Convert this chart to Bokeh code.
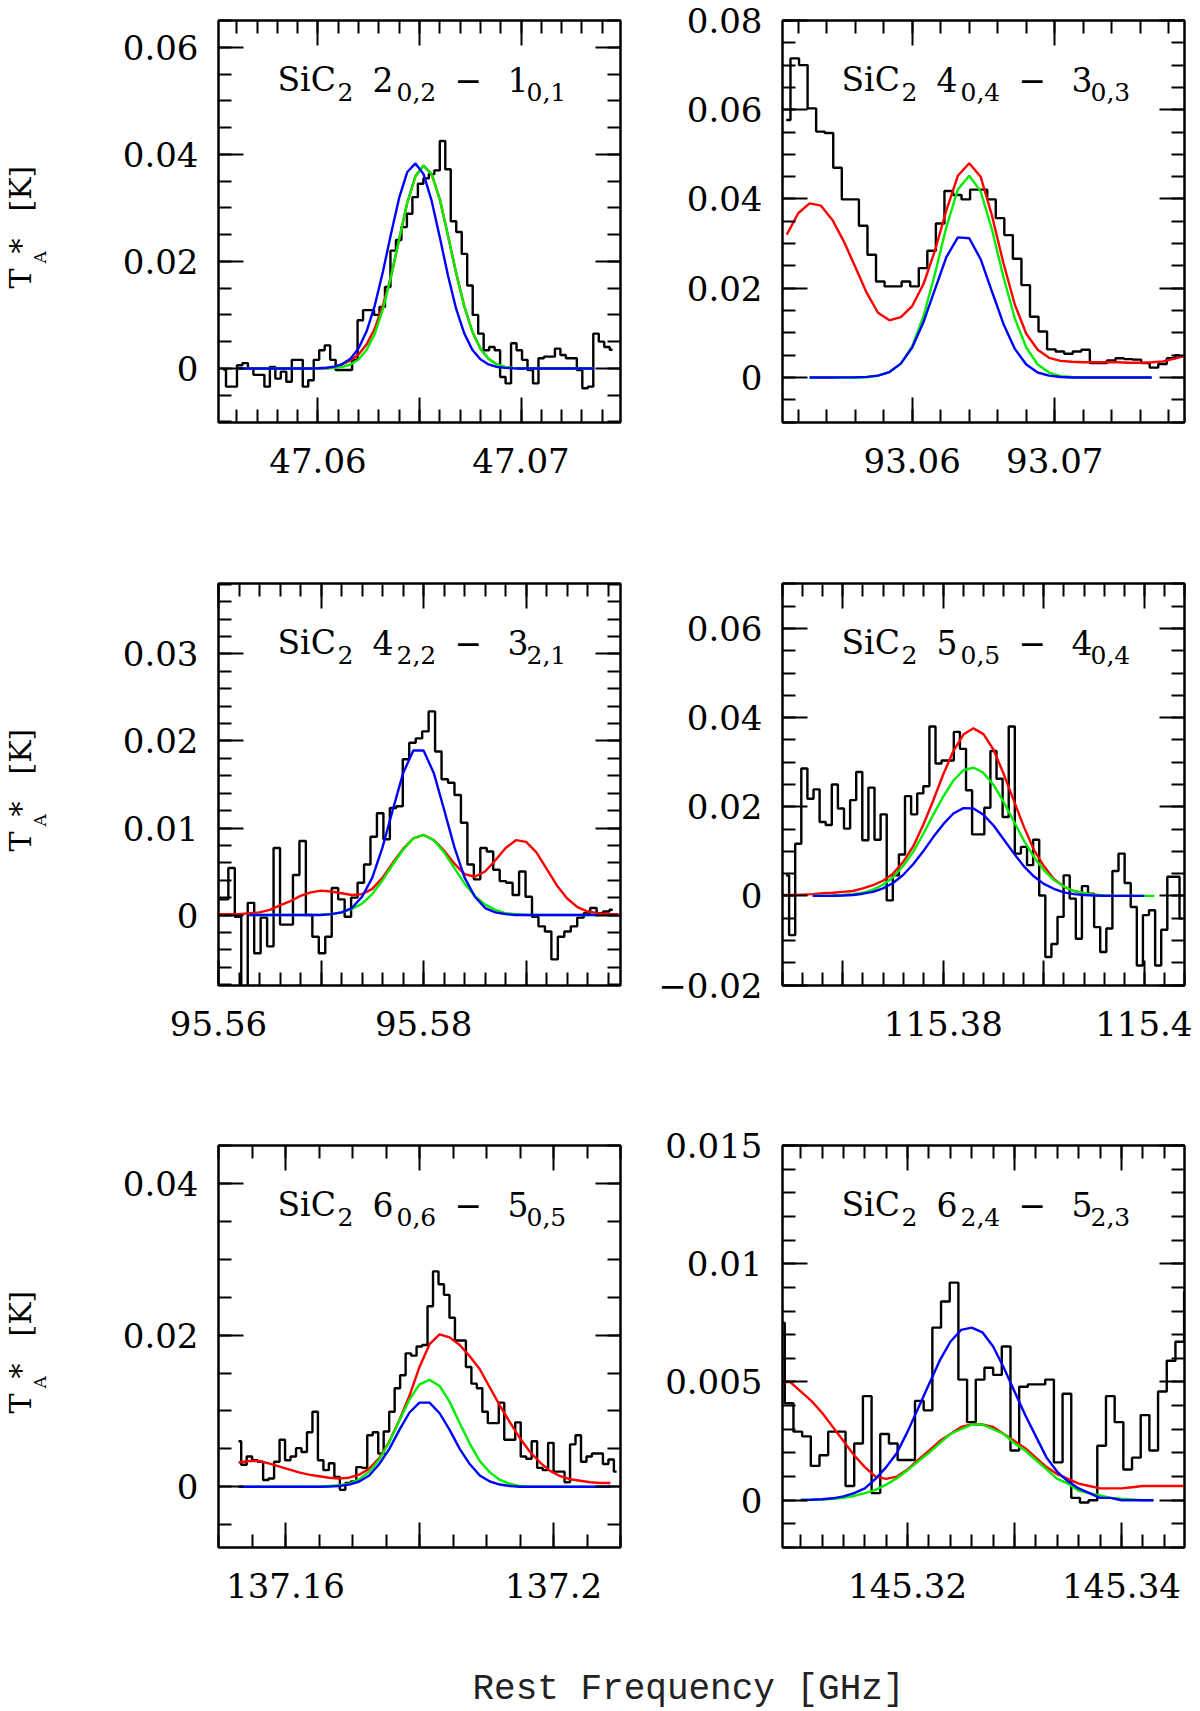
import numpy as np
from bokeh.embed import file_html
from bokeh.resources import INLINE
from bokeh.plotting import figure
from bokeh.layouts import row, column
from bokeh.models import Range1d, LinearAxis, FixedTicker, CustomJSTickFormatter, Label

nan = float("nan")

# ---------------- data (GHz, K) ----------------
# panel 1: SiC2 2(0,2)-1(0,1)
p1_chan0, p1_dchan = 47.0552, 0.00027
p1_spec = [-0.0002, -0.0034, -0.0034, 0.0006, 0.0010, 0.0000, -0.0012, -0.0012, -0.0034, 0.0003,
           -0.0019, -0.0006, -0.0025, 0.0016, 0.0016, -0.0034, -0.0022, 0.0016, 0.0034, 0.0043,
           0.0016, -0.0003, -0.0003, -0.0003, 0.0016, 0.0090, 0.0109, 0.0109, 0.0100, 0.0115,
           0.0152, 0.0220, 0.0240, 0.0264, 0.0289, 0.0320, 0.0345, 0.0355, 0.0363, 0.0370,
           0.0425, 0.0372, 0.0275, 0.0255, 0.0214, 0.0155, 0.0100, 0.0065, 0.0034, 0.0040,
           0.0034, -0.0016, -0.0028, 0.0047, 0.0034, 0.0016, -0.0003, -0.0028, 0.0019, 0.0022,
           0.0022, 0.0037, 0.0025, 0.0019, 0.0019, -0.0003, -0.0037, -0.0034, 0.0065, 0.0050,
           0.0040, 0.0035]
p1_fit0, p1_dfit = 47.0560, 0.0004
p1_blue = [0] * 10 + [0.00004, 0.00012, 0.00033, 0.00082, 0.00183, 0.00376, 0.00698, 0.0118, 0.0181,
                      0.0252, 0.0319, 0.0367, 0.0383, 0.0363, 0.0313, 0.0245, 0.0174, 0.0112, 0.0066,
                      0.0035, 0.0017, 0.00075, 0.0003, 0.0001, 0.00003] + [0] * 10
p1_green = [0] * 10 + [0.00001, 0.00004, 0.0001, 0.0003, 0.00074, 0.00167, 0.0035, 0.0065, 0.0111,
                       0.0172, 0.0242, 0.0310, 0.0359, 0.0379, 0.0363, 0.0316, 0.0249, 0.0179, 0.0117,
                       0.0069, 0.0037, 0.0018, 0.0008, 0.0003, 0.0001] + [0] * 10
p1_red = [0] * 10 + [0.00001, 0.00004, 0.0001, 0.0008, 0.0015, 0.0026, 0.0045, 0.0075, 0.0118,
                     0.0172, 0.0242, 0.0310, 0.0359, 0.0379, 0.0363, 0.0316, 0.0249, 0.0179, 0.0117,
                     0.0069, 0.0037, 0.0018, 0.0008, 0.0003, 0.0001] + [0] * 10

# panel 2: SiC2 4(0,4)-3(0,3)
p2_chan0, p2_dchan = 93.05086, 0.0006
p2_spec = [0.0577, 0.0715, 0.0700, 0.0603, 0.0551, 0.0548, 0.0470, 0.0399, 0.0399, 0.0340,
           0.0275, 0.0215, 0.0204, 0.0204, 0.0215, 0.0204, 0.0245, 0.0284, 0.0345, 0.0418,
           0.0409, 0.0399, 0.0421, 0.0421, 0.0399, 0.0357, 0.0319, 0.0266, 0.0207, 0.0136,
           0.0103, 0.0063, 0.0058, 0.0053, 0.0058, 0.0062, 0.0032, 0.0032, 0.0038, 0.0043,
           0.0041, 0.0040, 0.0032, 0.0022, 0.0030, 0.0043, 0.0050]
p2_fit0, p2_dfit = 93.0512, 0.0008
p2_blue = [nan, nan, 0, 0, 0, 0.00001, 0.00003, 0.00012, 0.0004, 0.0012, 0.0031, 0.0067, 0.0125,
           0.0198, 0.0270, 0.0314, 0.0312, 0.0265, 0.0192, 0.0120, 0.0064, 0.0029, 0.0011, 0.0004,
           0.0001] + [0] * 8 + [nan, nan, nan]
p2_green = [nan, nan, 0, 0, 0, 0, 0, 0.00003, 0.0004, 0.0012, 0.0031, 0.0070, 0.0138, 0.0233,
            0.0338, 0.0421, 0.0452, 0.0417, 0.0331, 0.0225, 0.0132, 0.0067, 0.0029, 0.0011, 0.0003,
            0.0001] + [0] * 7 + [nan, nan, nan]
p2_red = [0.0320, 0.0368, 0.0390, 0.0385, 0.0353, 0.0305, 0.0248, 0.0190, 0.0145, 0.0128,
          0.0135, 0.0160, 0.0210, 0.0285, 0.0375, 0.0452, 0.0480, 0.0450, 0.0362, 0.0256,
          0.0163, 0.0098, 0.0062, 0.0044, 0.0037, 0.0035, 0.0034, 0.0034, 0.0034, 0.0034,
          0.0033, 0.0033, 0.0034, 0.0036, 0.0042, 0.0049]

# panel 3: SiC2 4(2,2)-3(2,1)
p3_chan0, p3_dchan = 95.5597, 0.00063
p3_spec = [0.0018, 0.0018, 0.0054, -0.0002, -0.0120, 0.0014, -0.0044, -0.0003, -0.0036, 0.0077,
           -0.0011, -0.0011, 0.0046, 0.0085, 0.0000, -0.0025, -0.0044, -0.0025, 0.0031, 0.0018,
           -0.0002, 0.0020, 0.0037, 0.0058, 0.0090, 0.0117, 0.0087, 0.0123, 0.0125, 0.0179,
           0.0198, 0.0203, 0.0211, 0.0234, 0.0188, 0.0156, 0.0152, 0.0138, 0.0106, 0.0058,
           0.0041, 0.0077, 0.0073, 0.0052, 0.0039, 0.0037, 0.0023, 0.0050, 0.0021, -0.0002,
           -0.0013, -0.0019, -0.0051, -0.0025, -0.0019, -0.0013, -0.0003, 0.0002, 0.0008, 0.0002,
           0.0004, 0.0006]
p3_fit0, p3_dfit = 95.560, 0.001
p3_blue = [nan] * 3 + [0] * 8 + [0.0001, 0.0003, 0.0008, 0.0021, 0.0043, 0.0078, 0.0121, 0.0163,
                                 0.0189, 0.0189, 0.0163, 0.0121, 0.0078, 0.0043, 0.0021, 0.0008,
                                 0.0003, 0.0001] + [0] * 9 + [nan] * 2
p3_green = [nan] * 3 + [0] * 5 + [0.0, 0.00001, 0.00004, 0.0001, 0.0003, 0.0007, 0.0013, 0.0024,
                                  0.0040, 0.0058, 0.0075, 0.0088, 0.0092, 0.0086, 0.0072, 0.0054,
                                  0.0036, 0.0022, 0.0012, 0.0006, 0.0002, 0.0001] + [0] * 8 + [nan] * 2
p3_red = [0.0001, 0.0001, 0.0001, 0.0002, 0.0003, 0.0006, 0.0011, 0.0016, 0.0022, 0.0026,
          0.0028, 0.0027, 0.0025, 0.0023, 0.0024, 0.0030, 0.0043, 0.0060, 0.0076, 0.0088,
          0.0092, 0.0086, 0.0074, 0.0059, 0.0047, 0.0044, 0.0050, 0.0063, 0.0077, 0.0086,
          0.0084, 0.0072, 0.0053, 0.0034, 0.0019, 0.0009, 0.0004, 0.0002, 0.0001, 0.0001]

# panel 4: SiC2 5(0,5)-4(0,4)
p4_chan0, p4_dchan = 115.36405, 0.000607
p4_spec = [0.0046, -0.0088, 0.0117, 0.0286, 0.0218, 0.0239, 0.0166, 0.0159, 0.0250, 0.0196,
           0.0151, 0.0215, 0.0278, 0.0125, 0.0243, 0.0126, 0.0183, -0.0010, 0.0046, 0.0093,
           0.0224, 0.0183, 0.0230, 0.0246, 0.0380, 0.0297, 0.0304, 0.0304, 0.0368, 0.0330,
           0.0237, 0.0138, 0.0138, 0.0198, 0.0325, 0.0263, 0.0177, 0.0380, 0.0095, 0.0110,
           0.0069, 0.0126, 0.0001, -0.0137, -0.0108, -0.0047, 0.0046, -0.0006, -0.0096, 0.0022,
           0.0005, -0.0070, -0.0126, -0.0073, 0.0056, 0.0095, 0.0029, -0.0025, -0.0156, -0.0043,
           -0.0032, -0.0156, -0.0076, 0.0043, 0.0043, -0.0051]
p4_fit0, p4_dfit = 115.364, 0.001
p4_blue = [nan] * 3 + [0, 0.00001, 0.00005, 0.0001, 0.0002, 0.0005, 0.0009, 0.0017, 0.0029, 0.0047,
                       0.0071, 0.0100, 0.0132, 0.0161, 0.0185, 0.0197, 0.0196, 0.0182, 0.0158, 0.0127,
                       0.0096, 0.0067, 0.0044, 0.0027, 0.0016, 0.0008, 0.0004, 0.0002, 0.0001] \
    + [0] * 5 + [nan] * 4
p4_green = [nan] * 3 + [0.00003, 0.00006, 0.0001, 0.0002, 0.0004, 0.0007, 0.0014, 0.0025, 0.0042,
                        0.0067, 0.0099, 0.0139, 0.0182, 0.0223, 0.0259, 0.0282, 0.0288, 0.0276,
                        0.0249, 0.0211, 0.0168, 0.0125, 0.0088, 0.0058, 0.0036, 0.0021, 0.0011,
                        0.0006, 0.0003, 0.0001] + [0] * 5 + [nan] * 3
p4_red = [0.0002, 0.0002, 0.0003, 0.0004, 0.0006, 0.0007, 0.0009, 0.0011, 0.0017, 0.0024,
          0.0034, 0.0050, 0.0076, 0.0111, 0.0159, 0.0214, 0.0273, 0.0325, 0.0362, 0.0376,
          0.0363, 0.0328, 0.0274, 0.0215, 0.0156, 0.0104, 0.0067, 0.0038, 0.0021, 0.0011,
          0.0006, 0.0003, 0.0001, 0, 0, 0] + [nan] * 5

# panel 5: SiC2 6(0,6)-5(0,5)
p5_chan0, p5_dchan = 137.15257, 0.000818
p5_spec = [0.0060, 0.0029, 0.0040, 0.0035, 0.0033, 0.0009, 0.0011, 0.0033, 0.0062, 0.0035,
           0.0040, 0.0051, 0.0046, 0.0072, 0.0099, 0.0035, 0.0022, 0.0031, 0.0013, -0.0004,
           0.0005, 0.0007, 0.0026, 0.0025, 0.0068, 0.0072, 0.0044, 0.0073, 0.0099, 0.0130,
           0.0147, 0.0176, 0.0173, 0.0185, 0.0187, 0.0238, 0.0284, 0.0267, 0.0253, 0.0223,
           0.0193, 0.0193, 0.0158, 0.0136, 0.0130, 0.0099, 0.0084, 0.0084, 0.0111, 0.0062,
           0.0062, 0.0085, 0.0040, 0.0037, 0.0060, 0.0025, 0.0022, 0.0058, 0.0020, 0.0020,
           0.0006, 0.0056, 0.0068, 0.0033, 0.0040, 0.0044, 0.0044, 0.0030, 0.0036, 0.0020]
p5_fit0, p5_dfit = 137.153, 0.0015
p5_blue = [0] * 9 + [0.00003, 0.0001, 0.0003, 0.0007, 0.0015, 0.0030, 0.0050, 0.0075, 0.0098, 0.0111,
                     0.0111, 0.0097, 0.0075, 0.0050, 0.0030, 0.0015, 0.0007, 0.0003, 0.0001] + [0] * 10
p5_green = [0] * 9 + [0.0001, 0.0002, 0.0004, 0.0010, 0.0020, 0.0036, 0.0059, 0.0087, 0.0115, 0.0135,
                      0.0141, 0.0133, 0.0112, 0.0084, 0.0057, 0.0034, 0.0019, 0.0009, 0.0004,
                      0.0001] + [0] * 9
p5_red = [0.0032, 0.0034, 0.0034, 0.0031, 0.0027, 0.0023, 0.0019, 0.0016, 0.0014, 0.0012,
          0.0011, 0.0012, 0.0016, 0.0024, 0.0038, 0.0060, 0.0088, 0.0120, 0.0158, 0.0188,
          0.0201, 0.0197, 0.0187, 0.0172, 0.0155, 0.0131, 0.0107, 0.0085, 0.0064, 0.0046,
          0.0032, 0.0021, 0.0014, 0.0010, 0.0008, 0.0006, 0.0005, 0.0005]

# panel 6: SiC2 6(2,4)-5(2,3)
p6_chan0, p6_dchan = 145.3077, 0.000812
p6_spec = [0.0075, 0.0041, 0.0029, 0.0027, 0.00145, 0.0019, 0.0029, 0.0029, 0.0006, 0.0024,
           0.0044, 0.0003, 0.0028, 0.0024, 0.0017, 0.0017, 0.0042, 0.0038, 0.0073, 0.0084,
           0.0092, 0.0051, 0.0033, 0.0051, 0.0056, 0.0053, 0.0065, 0.0021, 0.0048, 0.0049,
           0.0049, 0.0051, 0.0016, 0.0045, 0.0001, -0.0001, 0.0000, 0.0023, 0.0044, 0.0033,
           0.0013, 0.0018, 0.0036, 0.0021, 0.0046, 0.0059, 0.0067, 0.0088]
p6_fit0, p6_dfit = 145.308, 0.001
p6_blue = [nan, nan, 0.00001, 0.00002, 0.00004, 0.00008, 0.00016, 0.0003, 0.0005, 0.0009, 0.0014,
           0.0020, 0.0029, 0.0039, 0.0049, 0.0059, 0.0067, 0.0072, 0.0073, 0.0071, 0.0065, 0.0056,
           0.0046, 0.0036, 0.0027, 0.0018, 0.0012, 0.0008, 0.0005, 0.0003, 0.0001, 0.0001,
           0, 0, 0, 0, nan, nan, nan]
p6_green = [nan, nan, 0.00001, 0.00002, 0.00003, 0.00006, 0.0001, 0.00018, 0.0003, 0.00044,
            0.00066, 0.00093, 0.00127, 0.00164, 0.0020, 0.0024, 0.0028, 0.0030, 0.0032, 0.0032,
            0.0030, 0.0028, 0.0024, 0.0021, 0.0017, 0.0013, 0.0009, 0.0007, 0.0004, 0.0003,
            0.0002, 0.0001, 0.00006, 0.00003, 0, 0, nan, nan, nan]
p6_red = [0.0050, 0.0050, 0.0046, 0.0042, 0.0037, 0.0031, 0.0025, 0.0019, 0.0014, 0.0010,
          0.0009, 0.0010, 0.0013, 0.0017, 0.0021, 0.0025, 0.0028, 0.0031, 0.0032, 0.0032,
          0.0031, 0.0028, 0.0025, 0.0022, 0.0018, 0.0014, 0.0011, 0.0009, 0.0007, 0.0006,
          0.0005, 0.0005, 0.0005, 0.00055, 0.0006, 0.0006, 0.0006, 0.0006, 0.0006]

# transitions (upper J, upper Ka,Kc, lower J, lower Ka,Kc)
transitions = [("2", "0,2", "1", "0,1"), ("4", "0,4", "3", "0,3"), ("4", "2,2", "3", "2,1"),
               ("5", "0,5", "4", "0,4"), ("6", "0,6", "5", "0,5"), ("6", "2,4", "5", "2,3")]

# axis extents and tick labels
x_ranges = [(47.0551, 47.0749), (93.0509, 93.0791), (95.560, 95.5992),
            (115.364, 115.404), (137.150, 137.210), (145.3083, 145.3459)]
y_ranges = [(-0.0101, 0.065), (-0.0101, 0.080), (-0.0081, 0.0381),
            (-0.0201, 0.0701), (-0.008, 0.0450), (-0.0020, 0.0150)]
x_major = [[47.06, 47.065, 47.07], [93.06, 93.07], [95.56, 95.57, 95.58, 95.59],
           [115.37, 115.38, 115.39, 115.40], [137.16, 137.18, 137.20], [145.32, 145.33, 145.34]]
x_minor_step = [0.001, 0.002, 0.002, 0.002, 0.005, 0.002]
x_label_pos = [[47.06, 47.07], [93.06, 93.07], [95.56, 95.58],
               [115.38, 115.40], [137.16, 137.20], [145.32, 145.34]]
x_label_txt = [["47.06", "47.07"], ["93.06", "93.07"], ["95.56", "95.58"],
               ["115.38", "115.4"], ["137.16", "137.2"], ["145.32", "145.34"]]
y_major = [[0, 0.02, 0.04, 0.06], [0, 0.02, 0.04, 0.06, 0.08], [0, 0.01, 0.02, 0.03],
           [-0.02, 0, 0.02, 0.04, 0.06], [0, 0.02, 0.04], [0, 0.005, 0.01, 0.015]]
y_minor_step = [0.005, 0.005, 0.002, 0.005, 0.005, 0.001]
y_label_txt = [["0", "0.02", "0.04", "0.06"], ["0", "0.02", "0.04", "0.06", "0.08"],
               ["0", "0.01", "0.02", "0.03"], ["\u22120.02", "0", "0.02", "0.04", "0.06"],
               ["0", "0.02", "0.04"], ["0", "0.005", "0.01", "0.015"]]

spectra = [(p1_chan0, p1_dchan, p1_spec), (p2_chan0, p2_dchan, p2_spec), (p3_chan0, p3_dchan, p3_spec),
           (p4_chan0, p4_dchan, p4_spec), (p5_chan0, p5_dchan, p5_spec), (p6_chan0, p6_dchan, p6_spec)]
fits = [(p1_fit0, p1_dfit, p1_red, p1_green, p1_blue), (p2_fit0, p2_dfit, p2_red, p2_green, p2_blue),
        (p3_fit0, p3_dfit, p3_red, p3_green, p3_blue), (p4_fit0, p4_dfit, p4_red, p4_green, p4_blue),
        (p5_fit0, p5_dfit, p5_red, p5_green, p5_blue), (p6_fit0, p6_dfit, p6_red, p6_green, p6_blue)]

SERIF = "DejaVu Serif"
ROW_H = [522, 563, 562]
ROW_TOP = [20, 61, 60]
BOTTOM = 100
ROT_SHIFT = 101   # rotated labels came out this much too high, pull them down
LABEL_JS = """
for (let i = 0; i < pos.length; i++) {
    if (Math.abs(tick - pos[i]) < 1e-7) { return txt[i] }
}
return ""
"""


def minor_ticks(lo, hi, step):
    start = np.ceil(lo / step - 1e-6) * step
    return [round(float(v), 6) for v in np.arange(start, hi + 1e-9, step)]


def style_axis(ax, major, minor, pos=None, txt=None, standoff=20):
    ax.ticker = FixedTicker(ticks=major, minor_ticks=minor)
    ax.major_tick_in, ax.major_tick_out = 25, 0
    ax.minor_tick_in, ax.minor_tick_out = 13, 0
    ax.major_tick_line_width = 2
    ax.minor_tick_line_width = 2
    ax.axis_line_width = 2
    ax.major_tick_line_color = "black"
    ax.minor_tick_line_color = "black"
    ax.axis_line_color = "black"
    if pos is None:
        ax.formatter = CustomJSTickFormatter(code="return ''")
        ax.major_label_text_font_size = "1px"
        ax.major_label_standoff = 0
    else:
        ax.formatter = CustomJSTickFormatter(args=dict(pos=pos, txt=txt), code=LABEL_JS)
        ax.major_label_text_font = SERIF
        ax.major_label_text_font_size = "34px"
        ax.major_label_text_color = "black"
        ax.major_label_standoff = standoff


def add_text(p, text, x, y, size, angle=0.0, font=SERIF, color="black", align="left", lift=True):
    # the baseline lands ~0.42 em below the requested point, so lift it back
    d = 0.42 * size if lift else 0.0
    if angle:
        x -= d
    else:
        y += d
    p.add_layout(Label(x=x, y=y, x_units="screen", y_units="screen", text=text, angle=angle,
                       text_font=font, text_font_size=f"{size}px", text_color=color,
                       text_align=align, text_baseline="alphabetic"))


def blank_fig(width, height):
    f = figure(width=width, height=height, x_range=Range1d(0, 1), y_range=Range1d(0, 1),
               output_backend="svg", toolbar_location=None, title=None,
               x_axis_location=None, y_axis_location=None, min_border=0)
    f.grid.visible = False
    f.outline_line_color = None
    return f


def make_panel(i):
    col, rw = i % 2, i // 2
    p = figure(width=[558, 564][col], height=ROW_H[rw], title=None,
               x_range=Range1d(*x_ranges[i]), y_range=Range1d(*y_ranges[i]),
               output_backend="svg", toolbar_location=None,
               min_border_left=[148, 154][col], min_border_right=8,
               min_border_top=ROW_TOP[rw], min_border_bottom=BOTTOM)
    p.xgrid.visible = False
    p.ygrid.visible = False
    p.outline_line_color = "black"
    p.outline_line_width = 2

    xmin = minor_ticks(*x_ranges[i], x_minor_step[i])
    ymin = minor_ticks(*y_ranges[i], y_minor_step[i])
    style_axis(p.xaxis[0], x_major[i], xmin, x_label_pos[i], x_label_txt[i], standoff=25)
    style_axis(p.yaxis[0], y_major[i], ymin, y_major[i], y_label_txt[i])
    top, right = LinearAxis(), LinearAxis()
    style_axis(top, x_major[i], xmin)
    style_axis(right, y_major[i], ymin)
    p.add_layout(top, "above")
    p.add_layout(right, "right")

    c0, dc, spec = spectra[i]
    chan = c0 + dc * (np.arange(len(spec)) + 0.5)
    p.step(chan, spec, mode="center", line_color="black", line_width=2.4)

    f0, df, red, green, blue = fits[i]
    for vals, colr in ((red, "#ff0000"), (green, "#00ee00"), (blue, "#0000ff")):
        freq = f0 + df * np.arange(len(vals))
        p.line(freq, vals, line_color=colr, line_width=2.4)

    ju, ku, jl, kl = transitions[i]
    for text, x, y, size in (("SiC", 59, 329, 33), ("2", 119, 320, 25),
                             (ju, 154, 329, 33), (ku, 178, 320, 25),
                             ("\u2212", 236, 329, 33), (jl, 289, 329, 33),
                             (kl, 308, 320, 25)):
        add_text(p, text, x, y, size)
    return p


def make_ylabel(rw):
    f = blank_fig(70, ROW_H[rw])
    for text, x, up, size in (("T", 33, 135, 30), ("A", 47, 160, 17),
                              ("*", 33, 170, 30), ("[K]", 33, 212, 30)):
        add_text(f, text, x, BOTTOM + up - ROT_SHIFT, size, angle=np.pi / 2)
    return f


panels = [make_panel(i) for i in range(6)]
rows = [row(make_ylabel(r), panels[2 * r], panels[2 * r + 1]) for r in range(3)]

lab = blank_fig(1192, 64)
add_text(lab, "Rest Frequency [GHz]", 688, 22, 36, font="Liberation Mono",
         color="#222222", align="center", lift=False)

layout = column(*rows, lab)

open("out.html", "w").write(file_html(layout, INLINE))
